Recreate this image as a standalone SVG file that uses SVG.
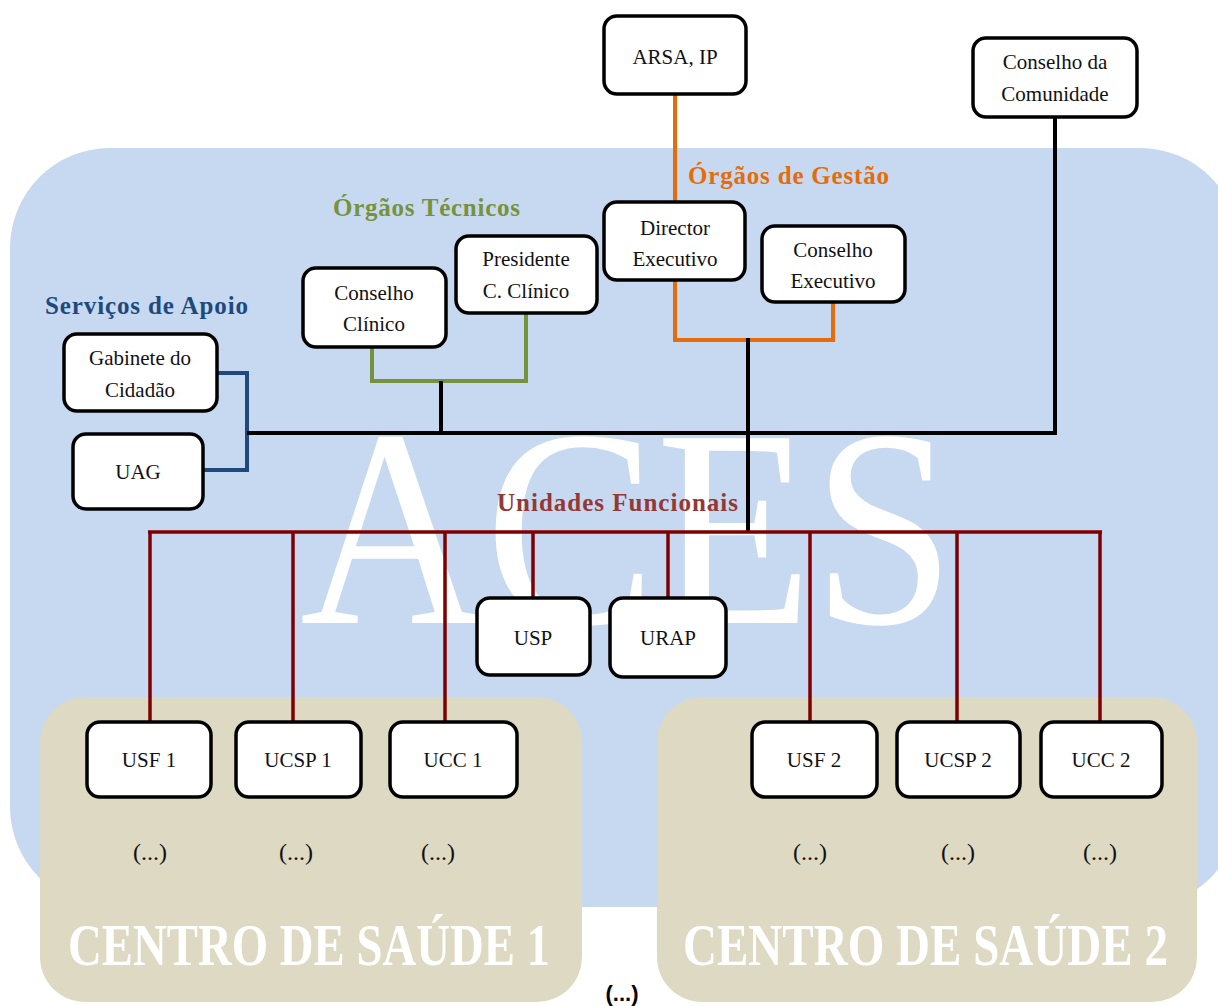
<svg xmlns="http://www.w3.org/2000/svg" width="1218" height="1006" viewBox="0 0 1218 1006">
<style>
.bx{fill:#fff;stroke:#000;stroke-width:3.5}
.t{font-family:"Liberation Serif","Times New Roman",serif;font-size:21px;fill:#111;text-anchor:middle}
.h{font-family:"Liberation Serif","Times New Roman",serif;font-size:25px;font-weight:bold;text-anchor:start}
.dots{font-family:"Liberation Serif","Times New Roman",serif;font-size:24px;fill:#111;text-anchor:middle}
.cs{font-family:"Liberation Serif","Times New Roman",serif;font-size:60px;font-weight:bold;fill:#fff}
.blk{stroke:#000;stroke-width:4;fill:none}
.org{stroke:#E46C0A;stroke-width:4;fill:none}
.grn{stroke:#76923C;stroke-width:4;fill:none}
.blu{stroke:#1F497D;stroke-width:4;fill:none}
.red{stroke:#7F0000;stroke-width:3.5;fill:none}
</style>
<rect width="1218" height="1006" fill="#fff"/>
<g id="aces-bg">
<rect x="10" y="148" width="1230" height="759" rx="100" fill="#C6D9F0"/>
<text x="300" y="623" font-family="Liberation Serif,Times New Roman,serif" font-size="282" fill="#fff" textLength="655" lengthAdjust="spacingAndGlyphs">ACES</text>
</g>
<g id="cs1">
<rect x="40" y="697" width="542" height="305" rx="45" fill="#DDD9C3"/>
<text class="cs" x="68" y="965" textLength="482" lengthAdjust="spacingAndGlyphs">CENTRO DE SAÚDE 1</text>
</g>
<g id="cs2">
<rect x="657" y="697" width="540" height="305" rx="45" fill="#DDD9C3"/>
<text class="cs" x="683" y="965" textLength="485" lengthAdjust="spacingAndGlyphs">CENTRO DE SAÚDE 2</text>
</g>
<g id="labels">
<text class="h" x="688" y="184" fill="#E46C0A" textLength="201">Órgãos de Gestão</text>
<text class="h" x="333" y="216" fill="#76923C" textLength="187">Órgãos Técnicos</text>
<text class="h" x="45" y="314" fill="#1F497D" textLength="203">Serviços de Apoio</text>
<text class="h" x="497" y="511" fill="#953735" font-size="22" textLength="241">Unidades Funcionais</text>
</g>
<g id="connectors">
<path class="org" d="M675 94V202M675 280V340H833V302"/>
<path class="grn" d="M372 347V381H526V313"/>
<path class="blu" d="M217 373H247V470H203"/>
<path class="blk" d="M441 381V433M247 433H1055V117M748 338V532"/>
<path class="red" stroke-width="5" d="M148 532H1102"/>
<path class="red" d="M150 532V722M293 532V722M445 532V722M533 532V598M668 532V598M810 532V722M957 532V722M1100 532V722"/>
</g>
<g id="n-arsa"><rect class="bx" x="604" y="16" width="142" height="78" rx="13"/><text class="t" x="675" y="64">ARSA, IP</text></g>
<g id="n-ccom"><rect class="bx" x="973" y="38" width="164" height="79" rx="13"/><text class="t" x="1055" y="69" font-size="20">Conselho da</text><text class="t" x="1055" y="101" font-size="20">Comunidade</text></g>
<g id="n-dir"><rect class="bx" x="604" y="202" width="141" height="78" rx="13"/><text class="t" x="675" y="235">Director</text><text class="t" x="675" y="266">Executivo</text></g>
<g id="n-cex"><rect class="bx" x="762" y="226" width="143" height="76" rx="13"/><text class="t" x="833" y="257">Conselho</text><text class="t" x="833" y="288">Executivo</text></g>
<g id="n-pres"><rect class="bx" x="456" y="236" width="141" height="77" rx="13"/><text class="t" x="526" y="266">Presidente</text><text class="t" x="526" y="298">C. Clínico</text></g>
<g id="n-ccli"><rect class="bx" x="303" y="268" width="143" height="79" rx="13"/><text class="t" x="374" y="300">Conselho</text><text class="t" x="374" y="331">Clínico</text></g>
<g id="n-gab"><rect class="bx" x="64" y="334" width="153" height="77" rx="13"/><text class="t" x="140" y="365">Gabinete do</text><text class="t" x="140" y="397">Cidadão</text></g>
<g id="n-uag"><rect class="bx" x="73" y="434" width="130" height="75" rx="13"/><text class="t" x="138" y="479">UAG</text></g>
<g id="n-usp"><rect class="bx" x="477" y="598" width="113" height="77" rx="13"/><text class="t" x="533" y="645">USP</text></g>
<g id="n-urap"><rect class="bx" x="610" y="598" width="116" height="79" rx="13"/><text class="t" x="668" y="645">URAP</text></g>
<g id="n-usf1"><rect class="bx" x="87" y="722" width="124" height="75" rx="13"/><text class="t" x="149" y="767">USF 1</text></g>
<g id="n-ucsp1"><rect class="bx" x="236" y="722" width="125" height="75" rx="13"/><text class="t" x="298" y="767">UCSP 1</text></g>
<g id="n-ucc1"><rect class="bx" x="390" y="722" width="127" height="75" rx="13"/><text class="t" x="453" y="767">UCC 1</text></g>
<g id="n-usf2"><rect class="bx" x="752" y="722" width="125" height="75" rx="13"/><text class="t" x="814" y="767">USF 2</text></g>
<g id="n-ucsp2"><rect class="bx" x="897" y="722" width="123" height="75" rx="13"/><text class="t" x="958" y="767">UCSP 2</text></g>
<g id="n-ucc2"><rect class="bx" x="1041" y="722" width="121" height="75" rx="13"/><text class="t" x="1101" y="767">UCC 2</text></g>
<g id="ellipses">
<text class="dots" x="150" y="860">(...)</text>
<text class="dots" x="296" y="860">(...)</text>
<text class="dots" x="438" y="860">(...)</text>
<text class="dots" x="810" y="860">(...)</text>
<text class="dots" x="958" y="860">(...)</text>
<text class="dots" x="1100" y="860">(...)</text>
<text x="622" y="1001" font-family="Liberation Sans,Arial,sans-serif" font-size="22" font-weight="bold" fill="#000" text-anchor="middle">(...)</text>
</g>
</svg>
